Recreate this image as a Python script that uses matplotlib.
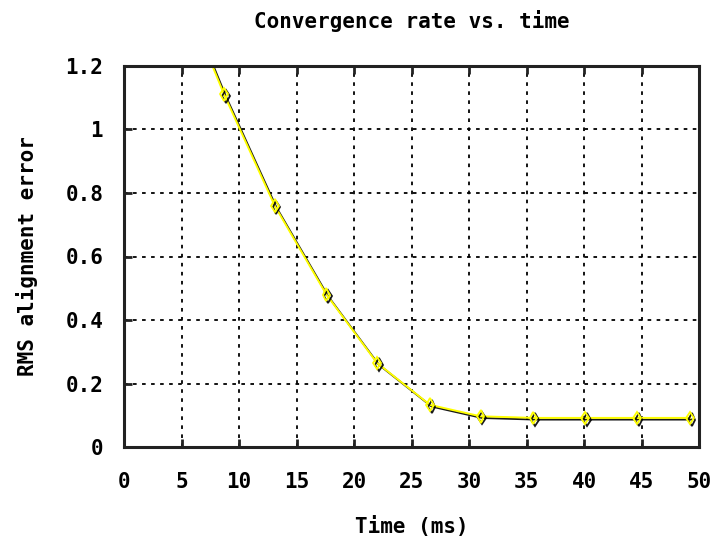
import numpy as np
import matplotlib
matplotlib.use("Agg")
import matplotlib.pyplot as plt
import matplotlib.patheffects as pe

# values (marker positions)
time_ms = [4.3, 8.7, 13.1, 17.6, 22.0, 26.6, 31.0, 35.6, 40.1, 44.6, 49.2]
rms_err = [1.50, 1.11, 0.76, 0.48, 0.265, 0.133, 0.097, 0.092, 0.092, 0.092, 0.092]

x_ticks = [0, 5, 10, 15, 20, 25, 30, 35, 40, 45, 50]
y_ticks = [0, 0.2, 0.4, 0.6, 0.8, 1.0, 1.2]
y_ticklabels = ["0", "0.2", "0.4", "0.6", "0.8", "1", "1.2"]

FONT = dict(family="DejaVu Sans Mono", fontweight="bold")
FS = 15

fig = plt.figure(figsize=(7.17, 5.4), dpi=100)
ax = fig.add_axes([0.173, 0.172, 0.802, 0.706])

ax.plot(time_ms, rms_err, color="#ffff00", linewidth=1.4,
        marker="d", markersize=6.5, markerfacecolor="none",
        markeredgecolor="#ffff00", markeredgewidth=1.3,
        path_effects=[pe.SimpleLineShadow(offset=(1.2, -1.2),
                                          shadow_color="black", alpha=0.9),
                      pe.Normal()])

ax.set_xlim(0, 50)
ax.set_ylim(0, 1.2)
ax.set_xticks(x_ticks)
ax.set_xticklabels([str(v) for v in x_ticks], fontsize=FS, **FONT)
ax.set_yticks(y_ticks)
ax.set_yticklabels(y_ticklabels, fontsize=FS, **FONT)
ax.tick_params(direction="in", length=6, width=2, top=True, right=False,
               color="#222222")
ax.tick_params(axis="x", pad=18)
ax.tick_params(axis="y", pad=15)

ax.grid(True, color="black", linestyle=(0, (2, 3)), linewidth=1.3)
for s in ax.spines.values():
    s.set_linewidth(2.2)
    s.set_color("#222222")

ax.set_title("Convergence rate vs. time", fontsize=FS, pad=27, **FONT)
ax.set_xlabel("Time (ms)", fontsize=FS, labelpad=17, **FONT)
ax.set_ylabel("RMS alignment error", fontsize=FS, labelpad=20, **FONT)

fig.savefig("out.png", dpi=100)
